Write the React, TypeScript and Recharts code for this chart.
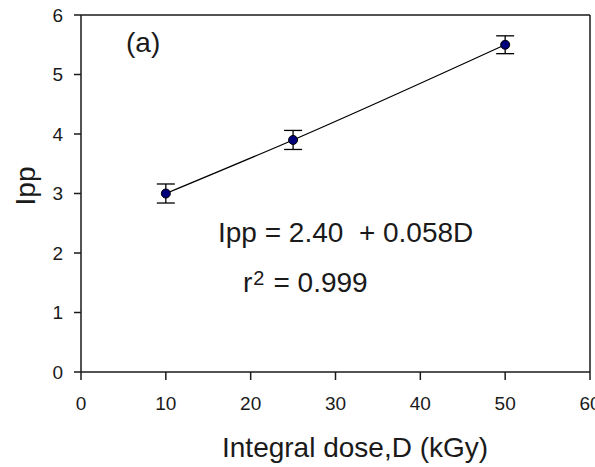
import React from 'react';
import {
  ComposedChart,
  Line,
  Scatter,
  ErrorBar,
  XAxis,
  YAxis,
  ReferenceLine,
} from 'recharts';

// values
const doses = [10, 25, 50];
const ippValues = [3.0, 3.9, 5.5];
const ippErrors = [0.16, 0.16, 0.15];
const xTicks = [0, 10, 20, 30, 40, 50, 60];
const yTicks = [0, 1, 2, 3, 4, 5, 6];

const data = doses.map((d, i) => ({ x: d, y: ippValues[i], err: ippErrors[i] }));

const FONT = '"Liberation Sans", Arial, sans-serif';
const INK = '#1a1a1a';

const Dot = (props: any) => (
  <circle cx={props.cx} cy={props.cy} r={4.5} fill="#00007a" stroke="#000" strokeWidth={1} />
);

const App: React.FC = () => {
  return (
    <div style={{ position: 'fixed', left: 0, top: 0, width: 595, height: 467, background: '#fff' }}>
      <ComposedChart
        width={595}
        height={467}
        data={data}
        margin={{ top: 15, right: 5, bottom: 0, left: 0 }}
        style={{ fontFamily: FONT }}
      >
        <XAxis
          type="number"
          dataKey="x"
          domain={[0, 60]}
          ticks={xTicks}
          height={95}
          tickSize={8}
          tickMargin={17}
          axisLine={{ stroke: INK, strokeWidth: 1.5 }}
          tickLine={{ stroke: INK, strokeWidth: 1.5 }}
          tick={{ fill: INK, fontSize: 19, fontFamily: FONT }}
          interval={0}
        />
        <YAxis
          type="number"
          domain={[0, 6]}
          ticks={yTicks}
          width={81}
          tickSize={7}
          tickMargin={11}
          axisLine={{ stroke: INK, strokeWidth: 1.5 }}
          tickLine={{ stroke: INK, strokeWidth: 1.5 }}
          tick={{ fill: INK, fontSize: 19, fontFamily: FONT }}
          interval={0}
        />
        <ReferenceLine y={6} stroke={INK} strokeWidth={1.5} />
        <ReferenceLine x={60} stroke={INK} strokeWidth={1.5} />
        <Line
          type="monotone"
          dataKey="y"
          stroke="#000"
          strokeWidth={1.2}
          dot={false}
          activeDot={false}
          isAnimationActive={false}
        />
        <Scatter dataKey="y" shape={Dot} isAnimationActive={false}>
          <ErrorBar dataKey="err" direction="y" width={9} stroke="#000" strokeWidth={1.3} />
        </Scatter>
      </ComposedChart>
      <svg
        width={595}
        height={467}
        style={{ position: 'absolute', left: 0, top: 0, pointerEvents: 'none' }}
        fontFamily={FONT}
        fill={INK}
      >
        <text x={126} y={52} fontSize={28}>(a)</text>
        <text x={218} y={242} fontSize={28} style={{ whiteSpace: 'pre' }}>
          {'Ipp = 2.40  + 0.058D'}
        </text>
        <text x={243} y={292} fontSize={28}>
          r
          <tspan fontSize={20} dx={1} dy={-7}>2</tspan>
          <tspan fontSize={28} dx={9} dy={7}>= 0.999</tspan>
        </text>
        <text x={222} y={457} fontSize={28}>Integral dose,D (kGy)</text>
        <text x={35} y={186} fontSize={28} textAnchor="middle" transform="rotate(-90 35 186)">
          Ipp
        </text>
      </svg>
    </div>
  );
};

export default App;
